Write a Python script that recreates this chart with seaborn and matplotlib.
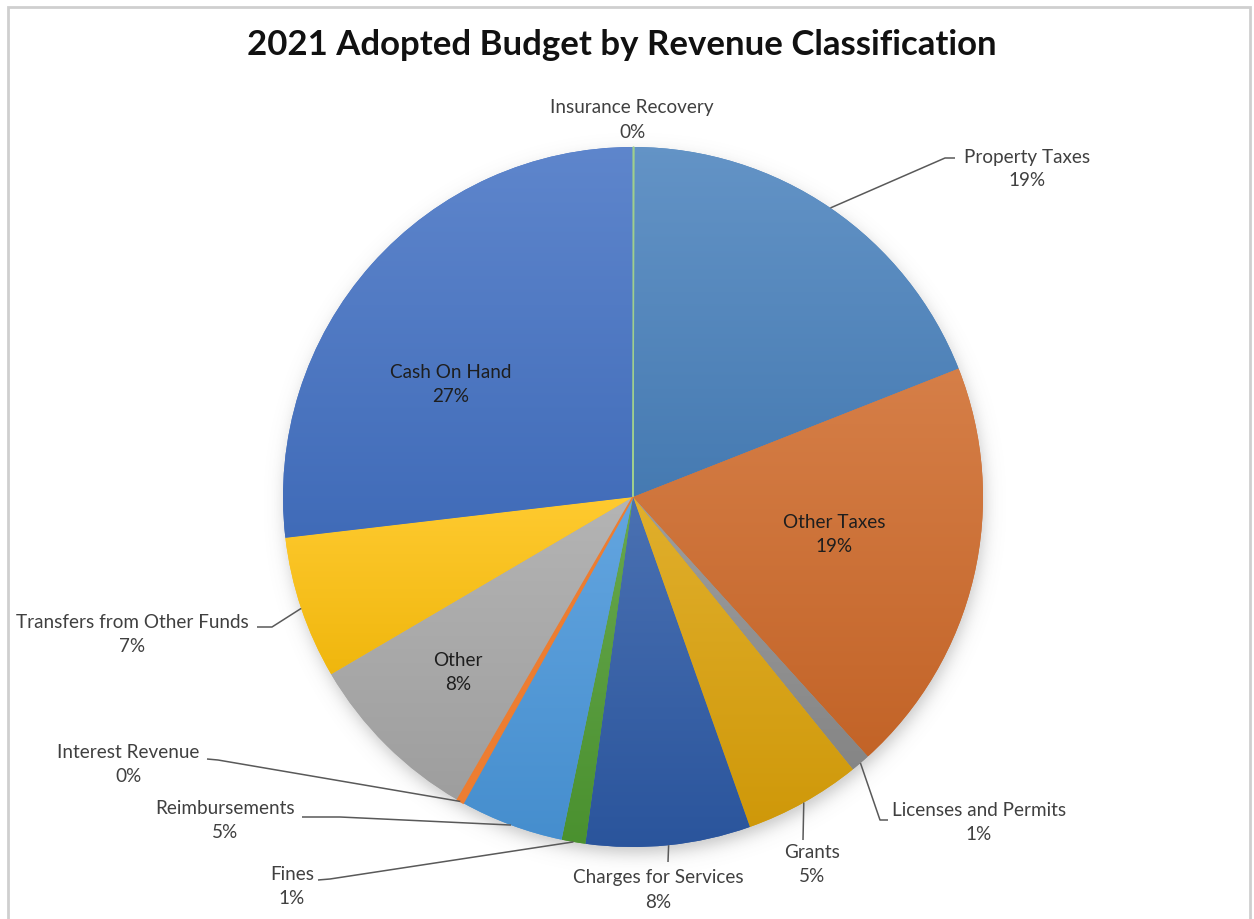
import numpy as np
import matplotlib
matplotlib.use("Agg")
import matplotlib.pyplot as plt
import matplotlib.colors as mcolors
from matplotlib.patches import Rectangle
import seaborn as sns

# Revenue classifications, clockwise from 12 o'clock
categories = [
    "Insurance Recovery", "Property Taxes", "Other Taxes", "Licenses and Permits",
    "Grants", "Charges for Services", "Fines", "Reimbursements",
    "Interest Revenue", "Other", "Transfers from Other Funds", "Cash On Hand",
]
# Share of the adopted budget (percent)
shares = [0.05, 19.0, 19.3, 0.9, 5.4, 7.6, 1.1, 4.8, 0.3, 8.2, 6.6, 26.9]
colors = [
    "#9fcf8c", "#4a82bd", "#cf6a2a", "#8e8e8e", "#dca20a", "#2d5aa6",
    "#4f9a32", "#4a97db", "#ed7d31", "#a8a8a8", "#ffc20e", "#4472c4",
]

sns.set_theme(style="white")
plt.rcParams["font.family"] = ["Lato", "DejaVu Sans"]

W, H = 1254, 919
fig = plt.figure(figsize=(W / 100, H / 100), dpi=100)
ax = fig.add_axes([0, 0, 1, 1])


def P(px, py):
    """Pixel position (origin top-left) to axes data coordinates."""
    return px, H - py


cx, cy = P(633, 497)
R = 350

# soft drop shadow under the pie
gx = np.linspace(cx - R - 40, cx + R + 40, 400)
gy = np.linspace(cy - R - 40, cy + R + 40, 400)
XX, YY = np.meshgrid(gx, gy)
d = np.hypot(XX - (cx + 2), YY - (cy - 7))
alpha = 0.35 / (1 + np.exp(-(R - d) / 5.0))
shadow = np.zeros(XX.shape + (4,))
shadow[..., :3] = 0.35
shadow[..., 3] = alpha
ax.imshow(shadow, extent=(gx[0], gx[-1], gy[0], gy[-1]), origin="lower",
          zorder=0, interpolation="bilinear")

total = sum(shares)
wedges, _ = ax.pie(shares, colors=colors, startangle=90, counterclock=False,
                   center=(cx, cy), radius=R, frame=True,
                   wedgeprops=dict(linewidth=0, zorder=1))


def mix(c, other, t):
    a = np.array(mcolors.to_rgb(c))
    b = np.array(mcolors.to_rgb(other))
    return tuple(a * (1 - t) + b * t)


# subtle top-to-bottom gradient in each slice
for w, c in zip(wedges, colors):
    ext = w.get_path().get_extents()
    top = np.array(mix(c, "white", 0.14))
    bot = np.array(mix(c, "black", 0.06))
    t = np.linspace(0, 1, 256)[:, None]
    grad = (top * (1 - t) + bot * t)[:, None, :]
    im = ax.imshow(grad, extent=(ext.x0, ext.x1, ext.y0, ext.y1), origin="upper",
                   aspect="auto", zorder=2, interpolation="bilinear")
    im.set_clip_path(w)

# thin slices keep their edge visible
for i, lw in ((0, 0.8), (8, 1.2)):
    wedges[i].set_edgecolor(colors[i])
    wedges[i].set_linewidth(lw)
    wedges[i].set_zorder(3)


def mid_point(w, r=R):
    ang = np.deg2rad((w.theta1 + w.theta2) / 2)
    return cx + r * np.cos(ang), cy + r * np.sin(ang)


def label(i):
    return f"{categories[i]}\n{round(shares[i] / total * 100):.0f}%"


FS = 13.6
LS = 1.5
OUT = "#404040"
IN = "#1e1e1e"
LINE = "#595959"

# labels inside large slices
inside = {2: (834, 534), 9: (458, 673), 11: (451, 385)}
for i, (px, py) in inside.items():
    ax.text(*P(px, py), label(i), ha="center", va="center", fontsize=FS,
            color=IN, linespacing=LS, zorder=5)

# labels outside with leader lines (elbow points in pixels)
outside = {
    0: ((632, 120), []),
    1: ((1027, 169), [(945, 158), (955, 158)]),
    3: ((979, 823), [(880, 820), (888, 820)]),
    4: ((812, 865), [(803, 840)]),
    5: ((658, 890), [(668, 862)]),
    6: ((292, 887), [(330, 879), (318, 880)]),
    7: ((225, 821), [(340, 817), (302, 817)]),
    8: ((128, 764), [(218, 760), (207, 759)]),
    10: ((132, 634), [(272, 627), (257, 627)]),
}
for i, ((px, py), elbows) in outside.items():
    ax.text(*P(px, py), label(i), ha="center", va="center", fontsize=FS,
            color=OUT, linespacing=LS, zorder=5)
    if elbows:
        pts = [mid_point(wedges[i])] + [P(*e) for e in elbows]
        xs, ys = zip(*pts)
        ax.plot(xs, ys, color=LINE, lw=1.1, zorder=4, solid_capstyle="butt")

ax.text(*P(622, 45), "2021 Adopted Budget by Revenue Classification",
        ha="center", va="center", fontsize=25, fontweight="bold", color="#111111")

# chart area border
ax.add_patch(Rectangle(P(8, 930), 1242, 923, fill=False, edgecolor="#cfcfcf",
                       lw=2, zorder=6, clip_on=False))

ax.set_xlim(0, W)
ax.set_ylim(0, H)
ax.set_aspect("equal")
ax.axis("off")
fig.savefig("out.png", dpi=100, facecolor="white")
